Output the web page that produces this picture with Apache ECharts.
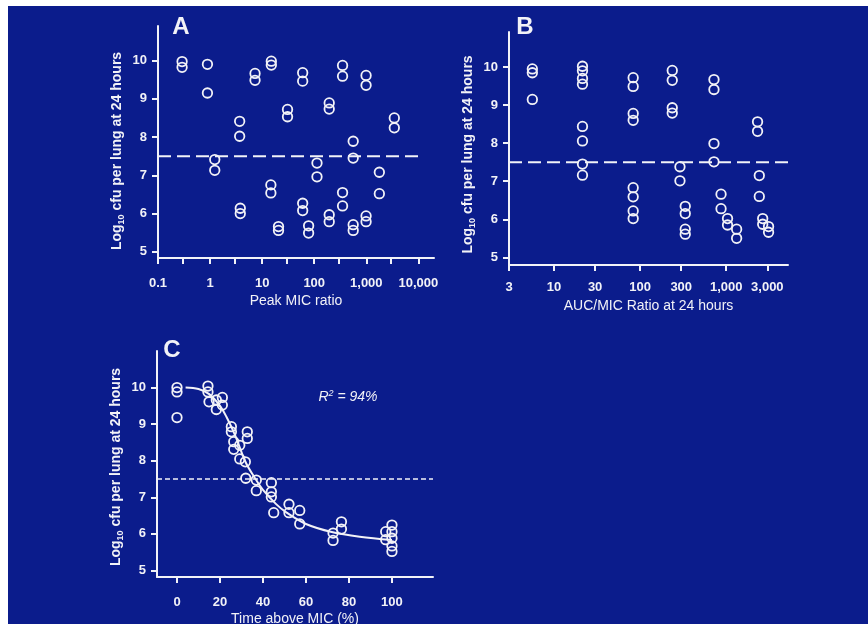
<!DOCTYPE html>
<html>
<head>
<meta charset="utf-8">
<script src="https://cdn.jsdelivr.net/npm/echarts@6/dist/echarts.min.js"></script>
<style>
html,body{margin:0;padding:0;background:#fff;}
#chart{width:868px;height:624px;}
</style>
</head>
<body>
<div id="chart"></div>
<script>
// ---------- Panel A: Peak/MIC ratio ----------
const peakMicRatio = [0.29,0.29, 0.89,0.89, 1.23,1.23, 3.7,3.7, 3.8,3.8, 7.3,7.3, 14.7,14.7, 15,15, 20.6,20.6, 30.7,30.7,
  60,60,60,60, 78,78, 113,113, 194,194,194,194, 350,350,350,350, 560,560,560,560, 990,990,990,990, 1780,1780, 3450,3450];
const peakLogCfu = [9.97,9.82, 9.9,9.15, 7.41,7.13, 8.41,8.02, 6.14,6.0, 9.66,9.48, 6.75,6.54, 9.98,9.88, 5.66,5.56, 8.72,8.53,
  9.68,9.46,6.27,6.08, 5.68,5.49, 7.32,6.96, 8.89,8.73,5.97,5.79, 9.87,9.59,6.55,6.2, 7.89,7.45,5.71,5.56, 9.61,9.35,5.94,5.79, 7.08,6.52, 8.5,8.24];
const aTickValues = [0.1,0.3,1,3,10,30,100,300,1000,3000,10000];
const aLabelValues = [0.1,1,10,100,1000,10000];
const aLabelTexts = ['0.1','1','10','100','1,000','10,000'];

// ---------- Panel B: AUC/MIC ratio ----------
const aucMicRatio = [5.6,5.6,5.6, 21.4,21.4,21.4,21.4,21.4,21.4,21.4,21.4, 83,83,83,83,83,83,83,83, 236,236,236,236, 290,290,
  334,334,334,334, 720,720,720,720, 870,870, 1035,1035, 1320,1320, 2310,2310, 2420,2420, 2650,2650, 3100,3100];
const aucLogCfu = [9.95,9.85,9.15, 10.02,9.9,9.7,9.55,8.44,8.06,7.45,7.16, 9.72,9.49,8.78,8.6,6.83,6.59,6.22,6.02, 9.91,9.65,8.93,8.79, 7.38,7.01,
  6.34,6.15,5.74,5.61, 9.67,9.41,7.99,7.51, 6.66,6.28, 6.02,5.85, 5.74,5.5, 8.56,8.31, 7.15,6.6, 6.02,5.87, 5.81,5.66];
const bTickValues = [3,10,30,100,300,1000,3000];
const bLabelTexts = ['3','10','30','100','300','1,000','3,000'];

// ---------- Panel C: Time above MIC ----------
const timeAboveMic = [0,0,0, 14.4,14.4, 14.9, 18.3,18.3, 21.1,21.1, 25.3,25.3, 26.4,26.4, 29.2,29.2, 31.8, 32.7,32.7, 32,
  36.9,36.9, 43.9,43.9,43.9, 45, 52.1,52.1, 57.1,57.1, 72.6,72.6, 76.5,76.5, 97.1,97.1, 100,100,100,100,100];
const timeLogCfu = [10.0,9.88,9.18, 10.04,9.88, 9.61, 9.66,9.4, 9.73,9.52, 8.93,8.79, 8.52,8.31, 8.42,8.05, 7.97, 8.79,8.61, 7.52,
  7.47,7.18, 7.4,7.15,7.01, 6.58, 6.81,6.58, 6.64,6.27, 6.02,5.82, 6.33,6.13, 6.06,5.84, 6.24,6.06,5.88,5.67,5.52];
const fitTime = [4,10,15,20,23,27,32,36,40,46,51,60,72,85,100];
const fitLogCfu = [10.0,9.96,9.82,9.5,9.2,8.7,7.95,7.55,7.2,6.82,6.58,6.27,6.05,5.92,5.83];
const cTickValues = [0,20,40,60,80,100];

const yTickValues = [5,6,7,8,9,10];
const breakpoint = 7.5;

const WHITE = '#f2f2f7';
const BLUE = '#0b1c8c';
const FONT = '"Liberation Sans", Arial, Helvetica, sans-serif';
const lg = Math.log10;

const yName = '{a|Log}{s|10}{a| cfu per lung at 24 hours}';
const yNameRich = {
  a: {fontFamily: FONT, fontSize: 14, fontWeight: 'bold', color: WHITE, lineHeight: 18},
  s: {fontFamily: FONT, fontSize: 9, fontWeight: 'bold', color: WHITE, lineHeight: 9, verticalAlign: 'bottom'}
};

function yAxisCfg(gi, min, max, shift) {
  return {
    type: 'value', gridIndex: gi, min: min, max: max,
    name: yName, nameLocation: 'middle', nameRotate: 90, nameGap: 32,
    nameTextStyle: {rich: yNameRich, padding: [0, shift, 0, 0]},
    axisLine: {show: true, onZero: false, lineStyle: {color: WHITE, width: 2}},
    axisTick: {show: true, length: 6, customValues: yTickValues, lineStyle: {color: WHITE, width: 2}},
    axisLabel: {customValues: yTickValues, color: WHITE, fontFamily: FONT, fontSize: 13, fontWeight: 'bold', margin: 11},
    splitLine: {show: false}
  };
}

function xAxisCfg(gi, min, max, tickVals, labelVals, fmt, name, nameGap, margin) {
  return {
    type: 'value', gridIndex: gi, min: min, max: max,
    name: name, nameLocation: 'middle', nameGap: nameGap,
    nameTextStyle: {color: WHITE, fontFamily: FONT, fontSize: 14},
    axisLine: {show: true, onZero: false, lineStyle: {color: WHITE, width: 2}},
    axisTick: {show: true, length: 6, customValues: tickVals, lineStyle: {color: WHITE, width: 2}},
    axisLabel: {customValues: labelVals, formatter: fmt, color: WHITE, fontFamily: FONT, fontSize: 13, fontWeight: 'bold', margin: margin},
    splitLine: {show: false}
  };
}

const pointStyle = {
  type: 'scatter', symbol: 'circle', symbolSize: 9.5,
  itemStyle: {color: 'transparent', borderColor: WHITE, borderWidth: 1.8, opacity: 1},
  emphasis: {disabled: true}, z: 5
};

const fmtA = v => {
  const i = aLabelValues.findIndex(t => Math.abs(lg(t) - v) < 1e-6);
  return i >= 0 ? aLabelTexts[i] : '';
};
const fmtB = v => {
  const i = bTickValues.findIndex(t => Math.abs(lg(t) - v) < 1e-6);
  return i >= 0 ? bLabelTexts[i] : '';
};

const option = {
  backgroundColor: BLUE,
  animation: false,
  grid: [
    {left: 158, top: 26, width: 276, height: 232, containLabel: false, outerBoundsMode: 'none'},
    {left: 509, top: 32, width: 279, height: 233, containLabel: false, outerBoundsMode: 'none'},
    {left: 157, top: 351, width: 276, height: 226, containLabel: false, outerBoundsMode: 'none'}
  ],
  xAxis: [
    xAxisCfg(0, -1, 4.3, aTickValues.map(lg), aLabelValues.map(lg), fmtA, 'Peak MIC ratio', 36, 19),
    xAxisCfg(1, lg(3), lg(3) + 3.24, bTickValues.map(lg), bTickValues.map(lg), fmtB, 'AUC/MIC Ratio at 24 hours', 34, 16),
    xAxisCfg(2, -9.3, 119.1, cTickValues, cTickValues, v => String(v), 'Time above MIC (%)', 35, 19)
  ],
  yAxis: [
    yAxisCfg(0, 4.84, 10.9, 18),
    yAxisCfg(1, 4.8, 10.92, 12),
    yAxisCfg(2, 4.82, 11.0, 6)
  ],
  series: [
    Object.assign({}, pointStyle, {xAxisIndex: 0, yAxisIndex: 0, data: peakMicRatio.map((x, i) => [lg(x), peakLogCfu[i]])}),
    Object.assign({}, pointStyle, {xAxisIndex: 1, yAxisIndex: 1, data: aucMicRatio.map((x, i) => [lg(x), aucLogCfu[i]])}),
    Object.assign({}, pointStyle, {xAxisIndex: 2, yAxisIndex: 2, data: timeAboveMic.map((x, i) => [x, timeLogCfu[i]])}),
    {type: 'line', xAxisIndex: 2, yAxisIndex: 2, smooth: 0.35, showSymbol: false, z: 4,
      lineStyle: {color: WHITE, width: 2}, data: fitTime.map((x, i) => [x, fitLogCfu[i]])},
    {type: 'line', xAxisIndex: 0, yAxisIndex: 0, showSymbol: false, z: 3,
      lineStyle: {color: WHITE, width: 2, type: [13, 6]}, data: [[lg(0.1), breakpoint], [lg(10000), breakpoint]]},
    {type: 'line', xAxisIndex: 1, yAxisIndex: 1, showSymbol: false, z: 3,
      lineStyle: {color: WHITE, width: 2, type: [13, 6]}, data: [[lg(3), breakpoint], [lg(3) + 3.24, breakpoint]]},
    {type: 'line', xAxisIndex: 2, yAxisIndex: 2, showSymbol: false, z: 3,
      lineStyle: {color: WHITE, width: 1.5, type: [5, 3]}, data: [[-9.3, breakpoint], [119.1, breakpoint]]}
  ],
  graphic: [
    {type: 'rect', left: 0, top: 0, shape: {width: 868, height: 6}, style: {fill: '#ffffff'}, silent: true},
    {type: 'rect', left: 0, top: 0, shape: {width: 8, height: 624}, style: {fill: '#ffffff'}, silent: true},
    {type: 'text', x: 181, y: 27, style: {text: 'A', fill: WHITE, font: 'bold 24px ' + FONT, textAlign: 'center', textVerticalAlign: 'middle'}},
    {type: 'text', x: 525, y: 27, style: {text: 'B', fill: WHITE, font: 'bold 24px ' + FONT, textAlign: 'center', textVerticalAlign: 'middle'}},
    {type: 'text', x: 172, y: 350, style: {text: 'C', fill: WHITE, font: 'bold 24px ' + FONT, textAlign: 'center', textVerticalAlign: 'middle'}},
    {type: 'text', x: 348, y: 397, style: {
      text: '{i|R}{s|2}{i| = 94%}', textAlign: 'center', textVerticalAlign: 'middle',
      rich: {
        i: {fontFamily: FONT, fontSize: 14, fontStyle: 'italic', fill: WHITE, color: WHITE, lineHeight: 16},
        s: {fontFamily: FONT, fontSize: 9, fontStyle: 'italic', fill: WHITE, color: WHITE, lineHeight: 9, verticalAlign: 'top'}
      }
    }}
  ]
};

const chart = echarts.init(document.getElementById('chart'), null, {renderer: 'canvas'});
chart.setOption(option);
</script>
</body>
</html>
